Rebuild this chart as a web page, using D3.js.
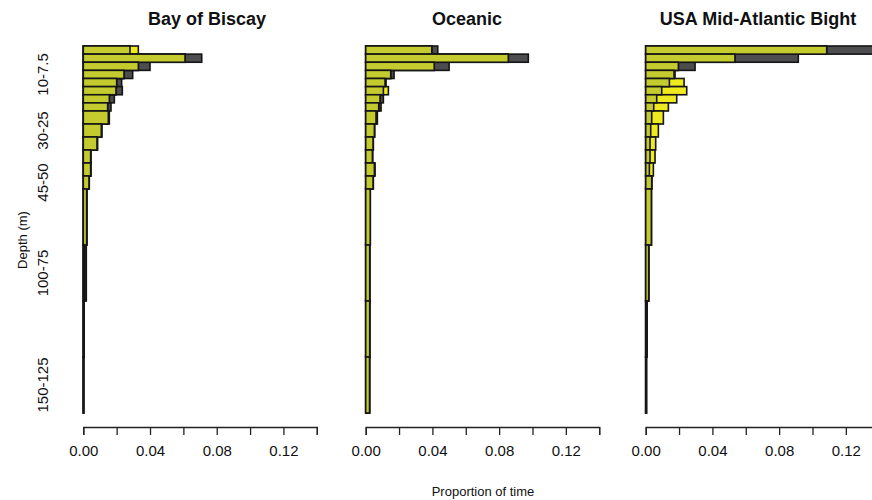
<!DOCTYPE html>
<html>
<head>
<meta charset="utf-8">
<script src="https://cdn.jsdelivr.net/npm/d3@7"></script>
<style>
  body { margin: 0; background: #fff; }
  svg text { font-family: "Liberation Sans", Arial, sans-serif; fill: #111; }
</style>
</head>
<body>
<svg id="chart" width="872" height="500"></svg>
<script>
// depth bins (m), top to bottom
var binTop    = [0, 2.5, 5, 7.5, 10, 12.5, 15, 17.5, 20, 25, 30, 35, 40, 45, 50, 75, 100, 125];
var binBottom = [2.5, 5, 7.5, 10, 12.5, 15, 17.5, 20, 25, 30, 35, 40, 45, 50, 75, 100, 125, 150];
var binLabels = ["2.5-0", "5-2.5", "7.5-5", "10-7.5", "12.5-10", "15-12.5", "17.5-15", "20-17.5",
                 "25-20", "30-25", "35-30", "40-35", "45-40", "45-50", "75-50", "100-75", "125-100", "150-125"];
var shownLabels = ["10-7.5", "30-25", "45-50", "100-75", "150-125"];

var panelTitles = ["Bay of Biscay", "Oceanic", "USA Mid-Atlantic Bight"];

// proportion of time, day (yellow) and night (grey)
var biscayDay   = [0.033, 0.061, 0.033, 0.0244, 0.020, 0.0196, 0.0156, 0.0146, 0.0156, 0.0112, 0.0086, 0.0046, 0.0046, 0.0036, 0.0022, 0.0008, 0.0004, 0.0002];
var biscayNight = [0.028, 0.071, 0.040, 0.0296, 0.023, 0.0234, 0.0186, 0.0166, 0.0150, 0.0108, 0.0082, 0.0044, 0.0044, 0.0034, 0.0020, 0.0018, 0.0005, 0.0003];
var oceanicDay   = [0.0396, 0.0855, 0.0411, 0.015, 0.0116, 0.0136, 0.0086, 0.0078, 0.0062, 0.0052, 0.0046, 0.0042, 0.0056, 0.0046, 0.0028, 0.0025, 0.0025, 0.0024];
var oceanicNight = [0.0432, 0.0975, 0.0500, 0.017, 0.0122, 0.0106, 0.0106, 0.0092, 0.0070, 0.0054, 0.0044, 0.0040, 0.0052, 0.0044, 0.0027, 0.0024, 0.0024, 0.0023];
var usaDay   = [0.1085, 0.0535, 0.0196, 0.0176, 0.0230, 0.0246, 0.0186, 0.0136, 0.0106, 0.0076, 0.0060, 0.0056, 0.0046, 0.0036, 0.0034, 0.0018, 0.0007, 0.0004];
var usaNight = [0.1400, 0.0915, 0.0296, 0.0170, 0.0142, 0.0096, 0.0066, 0.0048, 0.0036, 0.0030, 0.0026, 0.0026, 0.0022, 0.0036, 0.0034, 0.0018, 0.0008, 0.0005];

var xTicks = [0, 0.02, 0.04, 0.06, 0.08, 0.10, 0.12, 0.14];
var xTickLabels = [0, 0.04, 0.08, 0.12];

var panels = [
    { title: panelTitles[0], day: biscayDay, night: biscayNight },
    { title: panelTitles[1], day: oceanicDay, night: oceanicNight },
    { title: panelTitles[2], day: usaDay, night: usaNight }
];

var svg = d3.select("#chart"),
    panelLeft = [83.3, 365.7, 645.7],
    panelWidth = 233.5,
    titleX = [207, 467, 758],
    axisY = 427,
    colors = { night: "#4d4d50", day: "#eeea1f", both: "#c4cb2e" };

// bars get taller per metre in the shallow bins, like the original layout
var y = d3.scaleLinear()
    .domain([0, 20, 50, 150])
    .range([46, 111, 189, 413]);

panels.forEach(function(p, i) {
    var x = d3.scaleLinear()
        .domain([0, 0.14])
        .range([panelLeft[i], panelLeft[i] + panelWidth]);

    var g = svg.append("g").attr("class", "panel");

    var rows = binTop.map(function(t, k) {
        return { top: t, bottom: binBottom[k], day: p.day[k], night: p.night[k] };
    });

    function drawBars(cls, fill, valueFn) {
        g.selectAll("." + cls)
            .data(rows)
            .enter()
            .append("rect")
            .attr("class", cls)
            .attr("x", x(0))
            .attr("y", function(d) { return y(d.top); })
            .attr("width", function(d) { return x(valueFn(d)) - x(0); })
            .attr("height", function(d) { return y(d.bottom) - y(d.top); })
            .attr("fill", fill)
            .attr("stroke", "#151515")
            .attr("stroke-width", 1.6);
    }
    drawBars("night", colors.night, function(d) { return d.night; });
    drawBars("day", colors.day, function(d) { return d.day; });
    drawBars("both", colors.both, function(d) { return Math.min(d.day, d.night); });

    var axis = d3.axisBottom(x)
        .tickValues(xTicks)
        .tickSize(8)
        .tickSizeOuter(8)
        .tickPadding(10)
        .tickFormat(function(v) {
            return xTickLabels.some(function(l) { return Math.abs(l - v) < 1e-9; }) ? d3.format(".2f")(v) : "";
        });

    var ax = g.append("g")
        .attr("transform", "translate(0," + axisY + ")")
        .call(axis);
    ax.select(".domain").attr("stroke", "#222").attr("stroke-width", 1.3);
    ax.selectAll(".tick line").attr("stroke", "#222").attr("stroke-width", 1.3);
    ax.selectAll(".tick text")
        .attr("font-size", "15px")
        .attr("fill", "#111")
        .style("font-family", "'Liberation Sans', Arial, sans-serif");

    g.append("text")
        .attr("x", titleX[i])
        .attr("y", 25)
        .attr("text-anchor", "middle")
        .attr("font-size", "18px")
        .attr("font-weight", 700)
        .text(p.title);

    if (i === 0) {
        binLabels.forEach(function(l, k) {
            if (shownLabels.indexOf(l) < 0) return;
            var cy = y((binTop[k] + binBottom[k]) / 2);
            g.append("text")
                .attr("transform", "translate(48," + cy + ") rotate(-90)")
                .attr("text-anchor", "middle")
                .attr("font-size", "15px")
                .text(l);
        });
    }
});

svg.append("text")
    .attr("transform", "translate(27,240) rotate(-90)")
    .attr("text-anchor", "middle")
    .attr("font-size", "13px")
    .text("Depth (m)");

svg.append("text")
    .attr("x", 483)
    .attr("y", 496)
    .attr("text-anchor", "middle")
    .attr("font-size", "13px")
    .text("Proportion of time");
</script>
</body>
</html>
